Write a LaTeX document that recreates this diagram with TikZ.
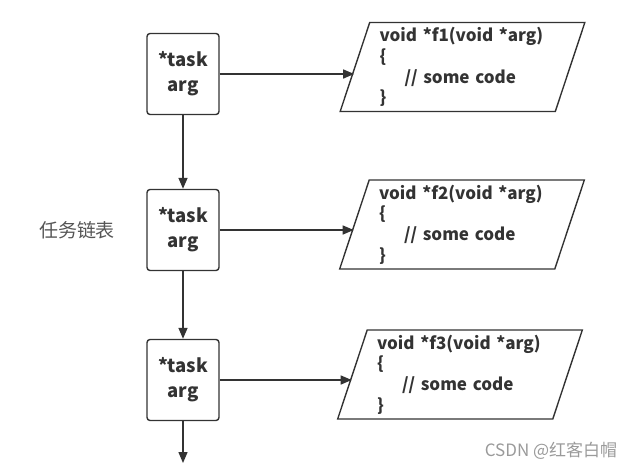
\documentclass[tikz,border=0pt]{standalone}
\usepackage{fontspec}
\setmainfont{Noto Sans CJK SC}
\usetikzlibrary{arrows.meta,shapes.geometric}
\definecolor{ink}{HTML}{333333}
\definecolor{labelgray}{HTML}{555555}
\definecolor{markgray}{HTML}{9A9A9A}

\begin{document}
\begin{tikzpicture}[x=1pt, y=-1pt, color=ink, line width=1.4pt,
  taskbox/.style={draw, rounded corners=3pt, minimum width=72pt,
    minimum height=81pt, align=center,
    font=\fontsize{18.5}{25}\selectfont\bfseries},
  codebox/.style={draw, trapezium, trapezium left angle=71.57,
    trapezium right angle=108.43, trapezium stretches=true,
    minimum width=245pt, minimum height=89pt, inner sep=0pt,
    text width=166pt, align=left,
    font=\fontsize{17}{20.7}\selectfont\bfseries},
  link/.style={-{Triangle[length=11pt, width=9pt]}}]
  \useasboundingbox (0, 0) rectangle (633, 469);

  % Task 1
  \node [taskbox] (task1) at (183, 74) {*task\\arg};
  \node [codebox] (code1) at (462.5, 67)
    {void *f1(void *arg)\\\{\\\hspace*{25pt}// some code\\\}};
  \draw [link] (task1.east) -- (task1.east -| code1.west);

  % Task 2
  \node [taskbox] (task2) at (183, 230) {*task\\arg};
  \node [codebox] (code2) at (462, 224.5)
    {void *f2(void *arg)\\\{\\\hspace*{25pt}// some code\\\}};
  \draw [link] (task2.east) -- (task2.east -| code2.west);

  % Task 3
  \node [taskbox] (task3) at (183, 380) {*task\\arg};
  \node [codebox] (code3) at (460, 374.5)
    {void *f3(void *arg)\\\{\\\hspace*{25pt}// some code\\\}};
  \draw [link] (task3.east) -- (task3.east -| code3.west);

  % List links
  \coordinate (tail) at (183, 463);
  \draw [link] (task1) -- (task2);
  \draw [link] (task2) -- (task3);
  \draw [link] (task3) -- (tail);

  % Labels
  \node [text=labelgray, font=\fontsize{19}{21}\selectfont] (list)
    at (77, 230) {任务链表};
  \node [text=markgray, font=\fontsize{17}{19}\selectfont] (mark)
    at (551, 451) {CSDN @红客白帽};
\end{tikzpicture}
\end{document}
